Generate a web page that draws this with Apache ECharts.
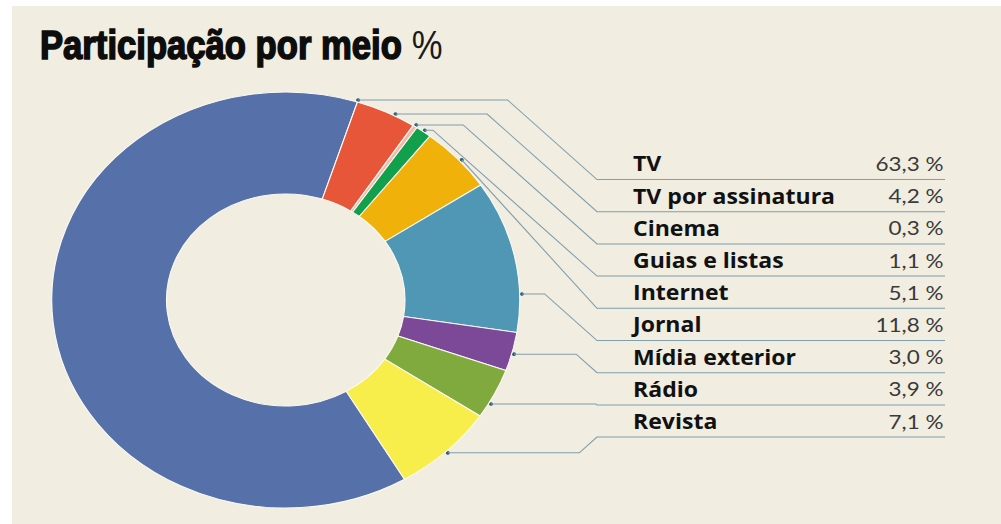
<!DOCTYPE html>
<html>
<head>
<meta charset="utf-8">
<script src="https://cdn.jsdelivr.net/npm/echarts@6/dist/echarts.min.js"></script>
<style>
  html, body { margin: 0; padding: 0; background: #f1ede1; overflow: hidden; width: 100%; height: 100%; }
  .edge { position: absolute; background: #fff; }
  #edgeL { left: 0; top: 0; width: 12px; height: 100%; }
  #edgeT { left: 0; top: 0; width: 100%; height: 6px; }
  /* the source picture is stretched sideways, so the whole chart is too */
  #chart { position: absolute; left: 0; top: 0; width: 890px; height: 524px; transform: scaleX(1.125); transform-origin: 0 0; }
</style>
</head>
<body>
<div class="edge" id="edgeL"></div>
<div class="edge" id="edgeT"></div>
<div id="chart"></div>
<script>
const titleText = 'Participação por meio';
const categories = ['TV', 'TV por assinatura', 'Cinema', 'Guias e listas', 'Internet', 'Jornal', 'Mídia exterior', 'Rádio', 'Revista'];
const shares = [63.3, 4.2, 0.3, 1.1, 5.1, 11.8, 3.0, 3.9, 7.1];
const colors = ['#5670aa', '#e8563a', '#f4b8aa', '#12a04c', '#f0b20a', '#4f97b5', '#7c4898', '#80aa3e', '#f7ee4c'];

// layout, in unstretched px
const SX = 1.125;
const cx = 254, cy = 300, rIn = 106, rOut = 208;
const startDeg = 149.5; // clockwise from 12 o'clock
const rowX = 633 / SX, rowEnd = 945 / SX, rowTop = 179.5, rowStep = 32.2;
const kneeEnd = 597 / SX;
const anchorFrac = [1, 0.65, 0.5, 0.5, 0.55, 0.75, 0.55, 0.7, 0.5];

const total = shares.reduce((a, b) => a + b, 0);
let acc = 0;
const anchors = shares.map((v, i) => {
    const th = (startDeg + (acc + v * anchorFrac[i]) / total * 360) * Math.PI / 180;
    acc += v;
    return [cx + (rOut + 2) * Math.sin(th), cy - (rOut + 2) * Math.cos(th)];
});

function leader(i) {
    const x0 = anchors[i][0], y0 = anchors[i][1];
    const yl = rowTop + rowStep * i;
    let knee = kneeEnd - Math.abs(yl - y0);
    if (knee < x0) knee = x0;
    return [[x0, y0], [knee, y0], [kneeEnd, yl], [rowEnd, yl]];
}

const fmt = v => v.toFixed(1).replace('.', ',') + ' %';

const chart = echarts.init(document.getElementById('chart'), null, { renderer: 'svg' });

const option = {
    animation: false,
    graphic: [
        {
            type: 'text',
            x: 40 / SX,
            y: 25,
            scaleX: 0.77,
            silent: true,
            style: {
                text: '{a|' + titleText + ' }{b|%}',
                rich: {
                    a: { fontFamily: 'Liberation Sans', fontWeight: 'bold', fontSize: 40, fill: '#0d0d0d', stroke: '#0d0d0d', lineWidth: 1.6 },
                    b: { fontFamily: 'Liberation Sans', fontWeight: 'normal', fontSize: 40, fill: '#1a1a1a' }
                }
            }
        }
    ].concat(anchors.map(a => ({
        type: 'circle',
        silent: true,
        shape: { cx: a[0], cy: a[1], r: 1.8 },
        style: { fill: '#2d5b80' }
    }))),
    series: [{
        type: 'pie',
        center: [cx, cy],
        radius: [rIn, rOut],
        startAngle: 90 - startDeg,
        clockwise: true,
        silent: true,
        avoidLabelOverlap: false,
        itemStyle: { borderColor: '#fbfaf4', borderWidth: 1 },
        label: {
            position: 'outside',
            formatter: p => '{n|' + p.name + '}{v|' + fmt(p.value) + '}',
            rich: {
                n: { width: 200, fontFamily: 'Open Sans', fontWeight: 'bold', fontSize: 20.5, color: '#111' },
                v: { width: 76, align: 'right', fontFamily: 'Lato', fontSize: 20, color: '#3a3a3a' }
            }
        },
        labelLine: { show: true, lineStyle: { color: '#7f9eae', width: 1 } },
        labelLayout: p => ({
            x: rowX,
            y: rowTop + rowStep * p.dataIndex - 16,
            align: 'left',
            verticalAlign: 'middle',
            labelLinePoints: leader(p.dataIndex)
        }),
        data: categories.map((n, i) => ({ name: n, value: shares[i], itemStyle: { color: colors[i] } }))
    }]
};

chart.setOption(option);
</script>
</body>
</html>
